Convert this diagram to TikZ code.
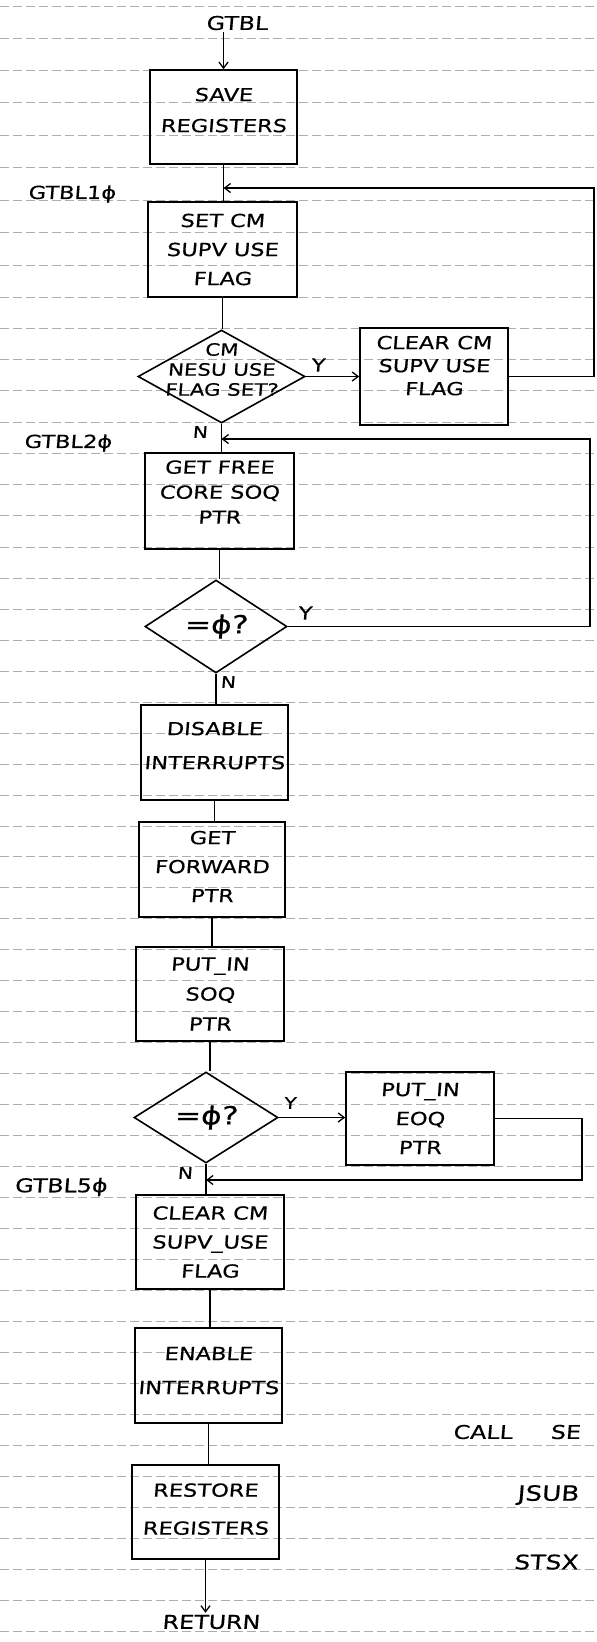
\documentclass[tikz,border=0pt]{standalone}
\usepackage{fontspec}
\newfontfamily\hand[FakeStretch=1.25,FakeSlant=0.08,FakeBold=0.4]{DejaVu Sans}
\usetikzlibrary{shapes.geometric,arrows.meta}
\newcommand\hwtext{\hand\fontsize{18}{29}\selectfont}
\newcommand\hwsmall{\hand\fontsize{17}{20}\selectfont}
\newcommand\hwlabel{\hand\fontsize{19}{20}\selectfont}
\newcommand\hwyn{\hand\fontsize{16}{18}\selectfont}
\begin{document}
\begin{tikzpicture}[x=1pt,y=-1pt,
  procbox/.style={draw, line width=1.6pt, inner sep=0pt, align=center,
    minimum width=147pt, minimum height=94pt, font=\hwtext},
  dmd/.style={draw, diamond, line width=1.6pt, inner sep=0pt},
  dtext/.style={align=center, font=\hwsmall},
  lbl/.style={font=\hwlabel, inner sep=2pt},
  yn/.style={font=\hwyn, inner sep=1pt},
  conn/.style={line width=1.3pt},
  arr/.style={line width=1.3pt, -{Straight Barb[length=6pt,width=9pt]}},
  gridln/.style={black!32, line width=0.5pt, dash pattern=on 9pt off 4pt}
]
\useasboundingbox (0,0) rectangle (597,1642);
% graph-paper background
\foreach \y in {6,38,70,102,135,167,200,232,265,297,328,359,390,422,453,484,515,547}
  \draw[gridln] (0,\y) -- (597,\y);
\foreach \k in {0,...,34}
  \draw[gridln] (0,{578+30.97*\k}) -- (597,{578+30.97*\k});

% nodes
\node[lbl] (gtbl) at (237,23) {GTBL};
\node[procbox, minimum width=147pt, minimum height=94pt, font=\hand\fontsize{18}{31}\selectfont, text depth=14pt] (save) at (223.5,117) {SAVE\\REGISTERS};
\node[lbl, font=\hand\fontsize{18}{20}\selectfont] (l10) at (72,194) {GTBL1ϕ};
\node[procbox, minimum width=149pt, minimum height=95pt] (setcm) at (222.5,249.5) {SET CM\\SUPV USE\\FLAG};
\node[dmd, minimum width=167pt, minimum height=93pt,
  label={[dtext, yshift=7pt]center:{CM\\NESU USE\\FLAG SET?}}] (d1) at (221.5,376.5) {};
\node[procbox, minimum width=148pt, minimum height=97pt, font=\hand\fontsize{18}{23}\selectfont, text depth=22pt] (clear1) at (434,376.5) {CLEAR CM\\SUPV USE\\FLAG};
\node[lbl, font=\hand\fontsize{18}{20}\selectfont] (l20) at (68,443) {GTBL2ϕ};
\node[procbox, minimum width=149pt, minimum height=96pt, font=\hand\fontsize{18}{25}\selectfont, text depth=18pt] (getfree) at (219.5,501) {GET FREE\\CORE SOQ\\PTR};
\node[dmd, minimum width=142pt, minimum height=93pt,
  label={[font=\hand\fontsize{25}{28}\selectfont]center:{=ϕ?}}] (d2) at (216,626.5) {};
\node[procbox, minimum width=147pt, minimum height=95pt, font=\hand\fontsize{18}{34}\selectfont, text depth=14pt] (disable) at (214.5,752.5) {DISABLE\\INTERRUPTS};
\node[procbox, minimum width=146pt, minimum height=95pt, text depth=6pt] (getfwd) at (212,869.5) {GET\\FORWARD\\PTR};
\node[procbox, minimum width=148pt, minimum height=94pt, font=\hand\fontsize{18}{30}\selectfont] (putsoq) at (210,994) {PUT\_IN\\SOQ\\PTR};
\node[dmd, minimum width=144pt, minimum height=91pt,
  label={[font=\hand\fontsize{25}{28}\selectfont]center:{=ϕ?}}] (d3) at (206,1117.5) {};
\node[procbox, minimum width=148pt, minimum height=93pt] (puteoq) at (420,1118.5) {PUT\_IN\\EOQ\\PTR};
\node[lbl] (l50) at (61,1187) {GTBL5ϕ};
\node[procbox, minimum width=148pt, minimum height=94pt] (clear2) at (210,1242) {CLEAR CM\\SUPV\_USE\\FLAG};
\node[procbox, minimum width=147pt, minimum height=95pt, font=\hand\fontsize{18}{34}\selectfont, text depth=10pt] (enable) at (208.5,1375.5) {ENABLE\\INTERRUPTS};
\node[procbox, minimum width=147pt, minimum height=94pt, font=\hand\fontsize{18}{38}\selectfont, text depth=6pt] (restore) at (205.5,1512) {RESTORE\\REGISTERS};
\node[lbl] (ret) at (211,1622) {RETURN};

% side notes
\node[lbl, anchor=west] (call) at (451,1432) {CALL\hspace{38pt}SE};
\node[lbl, font=\hand\fontsize{21}{22}\selectfont] (jsub) at (548,1495) {JSUB};
\node[lbl, font=\hand\fontsize{20}{22}\selectfont] (stsx) at (546,1562) {STSX};

% Y / N labels
\node[yn, font=\hand\fontsize{18}{20}\selectfont] (y1) at (318,365) {Y};
\node[yn] (n1) at (200,432) {N};
\node[yn, font=\hand\fontsize{18}{20}\selectfont] (y2) at (305,613) {Y};
\node[yn] (n2) at (228,682) {N};
\node[yn] (y3) at (290,1103) {Y};
\node[yn] (n3) at (185,1173) {N};

% loop corner coordinates
\coordinate (r1) at (594,188);
\coordinate (r2) at (590,439);
\coordinate (r3) at (582,1180);

% main flow
\draw[arr] (gtbl.south -| save.north) -- (save.north);
\draw[conn] (save.south) -- (save.south |- setcm.north);
\draw[conn] (setcm.south) -- (setcm.south |- d1.north);
\draw[arr] (d1.east) -- (clear1.west);
\draw[arr] (clear1.east) -| (r1) -- (save.south |- r1);
\draw[conn] (d1.south) -- (d1.south |- getfree.north);
\draw[conn] (getfree.south) -- (getfree.south |- d2.north);
\draw[arr] (d2.east) -| (r2) -- (d1.south |- r2);
\draw[conn] (d2.south) -- (d2.south |- disable.north);
\draw[conn] (disable.south) -- (disable.south |- getfwd.north);
\draw[conn] (getfwd.south) -- (getfwd.south |- putsoq.north);
\draw[conn] (putsoq.south) -- (putsoq.south |- d3.north);
\draw[arr] (d3.east) -- (d3.east -| puteoq.west);
\draw[arr] (puteoq.east) -| (r3) -- (d3.south |- r3);
\draw[conn] (d3.south) -- (d3.south |- clear2.north);
\draw[conn] (clear2.south) -- (clear2.south |- enable.north);
\draw[conn] (enable.south) -- (enable.south |- restore.north);
\draw[arr] (restore.south) -- (restore.south |- ret.north);
\end{tikzpicture}
\end{document}
